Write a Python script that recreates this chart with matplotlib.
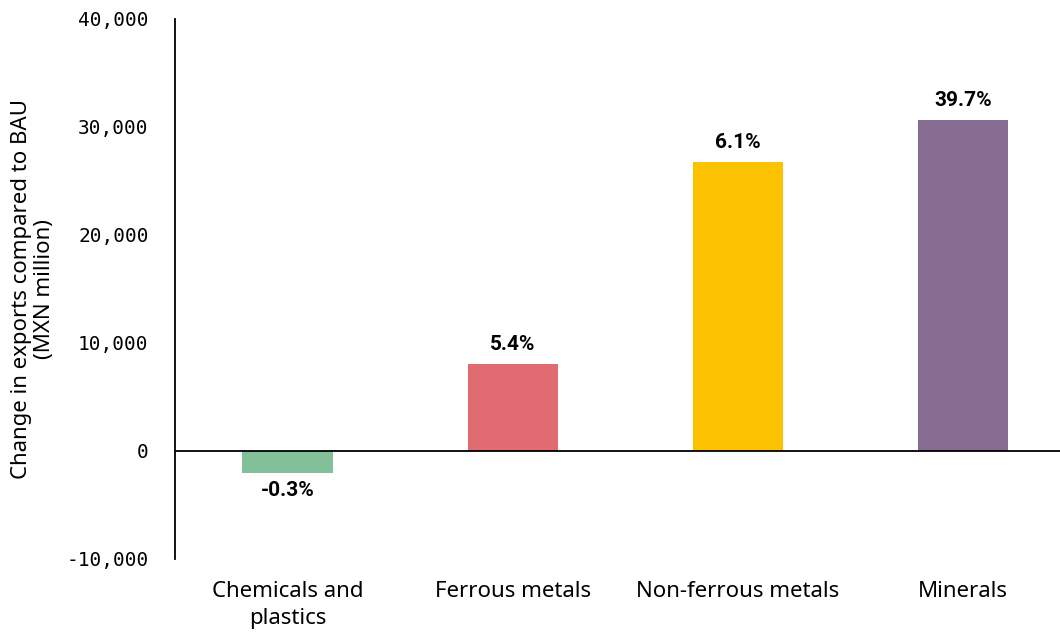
import matplotlib.pyplot as plt

categories = ['Chemicals and\nplastics', 'Ferrous metals', 'Non-ferrous metals', 'Minerals']
values = [-2050, 8050, 26800, 30650]
pct_labels = ['-0.3%', '5.4%', '6.1%', '39.7%']
colors = ['#82C09A', '#E06B70', '#FCC200', '#866C91']
yticks = [-10000, 0, 10000, 20000, 30000, 40000]

fig = plt.figure(figsize=(10.6, 6.33), dpi=100)
ax = fig.add_axes([0.165, 0.117, 0.835, 0.853])

x = list(range(len(categories)))
bars = ax.bar(x, values, width=0.4, color=colors, zorder=2)
ax.axhline(0, color='black', lw=1.3, zorder=3)

for b, v, lab in zip(bars, values, pct_labels):
    cx = b.get_x() + b.get_width() / 2
    if v >= 0:
        ax.annotate(lab, (cx, v), xytext=(0, 7), textcoords='offset points',
                    ha='center', va='bottom', fontsize=15, fontweight='bold',
                    family='Roboto')
    else:
        ax.annotate(lab, (cx, v), xytext=(0, -6), textcoords='offset points',
                    ha='center', va='top', fontsize=15, fontweight='bold',
                    family='Roboto')

ax.set_xlim(-0.5, 3.43)
ax.set_ylim(-10000, 40000)
ax.set_yticks(yticks)
ax.set_yticklabels(['{:,}'.format(t) for t in yticks], family='DejaVu Sans Mono', fontsize=14)
ax.set_xticks(x)
ax.set_xticklabels(categories, family='Noto Sans', fontsize=16, linespacing=1.35)
ax.tick_params(axis='y', length=0, pad=19)
ax.tick_params(axis='x', length=0, pad=16)

for s in ['top', 'right', 'bottom']:
    ax.spines[s].set_visible(False)
ax.spines['left'].set_linewidth(1.3)

ax.set_ylabel('Change in exports compared to BAU\n(MXN million)', family='Noto Sans',
              fontsize=16, linespacing=1.15, labelpad=8)

fig.savefig('out.png', dpi=100)
